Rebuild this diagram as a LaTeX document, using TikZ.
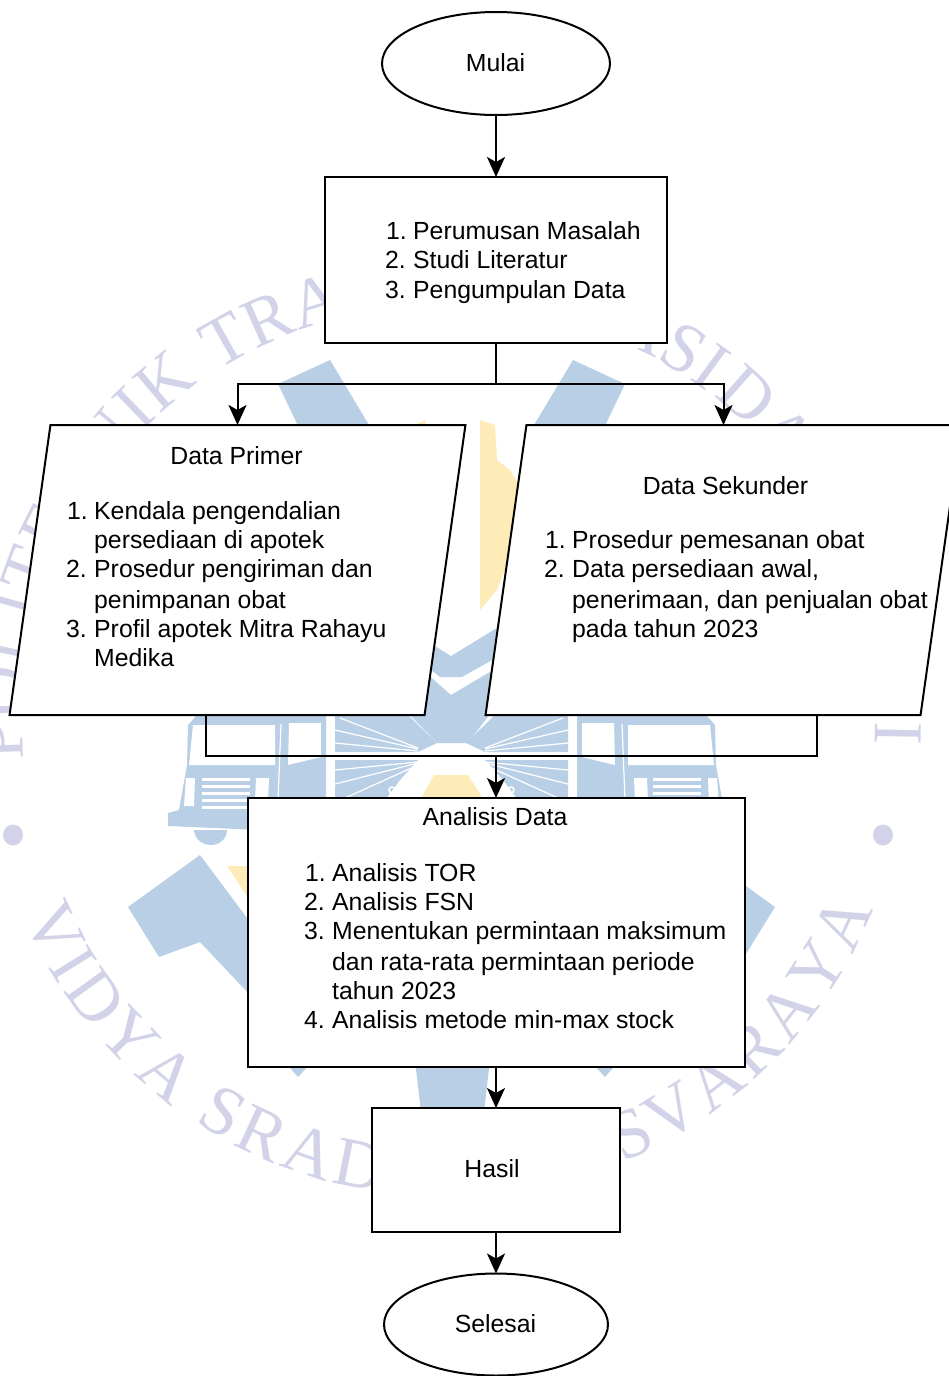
\documentclass[tikz,border=0pt]{standalone}
\usepackage{fontspec}
\setmainfont{Liberation Sans}
\newfontfamily\wmfont{Liberation Serif}
\usetikzlibrary{arrows.meta,shapes.geometric,decorations.text}
\definecolor{wmblue}{HTML}{B8CFE6}
\definecolor{wmyellow}{HTML}{FDEBB8}
\definecolor{wmtext}{HTML}{D2D3E8}
\tikzset{
  box/.style={draw=black,fill=white,line width=2pt,inner sep=0pt,outer sep=0pt},
  term/.style={box,ellipse},
  slanted/.style={box,xslant=0.141,transform shape},
  conn/.style={draw=black,line width=2pt},
  arrowconn/.style={conn,-{Stealth[length=20pt,width=18pt,inset=5pt]}},
  txt/.style={font=\fontsize{24.8pt}{29pt}\selectfont,text=black,inner sep=0pt,anchor=base},
  ltxt/.style={txt,anchor=base west},
  wb/.style={fill=wmblue,draw=none},
  wy/.style={fill=wmyellow,draw=none},
  ww/.style={fill=white,draw=none},
  ray/.style={draw=white,line width=1.2pt},
  wmarc/.style={decorate,decoration={text along path,text align=fit to path,raise=0pt}}
}
\newcommand{\wmhalf}{%
  % upper wedge
  \fill[wb] (330,360) -- (278,384) -- (300,430) -- (372,430) -- cycle;
  % truck body
  \fill[wb] (196,716) -- (326,716) -- (326,800) -- (260,830) -- (168,826) -- (168,813) -- (179,810) -- (187,765) -- (188,725) -- cycle;
  \fill[wb] (194,830) -- (227,830) .. controls (226,850) and (196,850) .. (194,830) -- cycle;
  \fill[ww] (193,725) -- (275,725) -- (275,765) -- (189,765) -- cycle;
  \fill[ww] (289,723) -- (321,723) -- (321,757) -- (288,765) -- cycle;
  \draw[white,line width=1.2pt] (281,724) -- (278,800);
  \fill[ww] (186,778) -- (195,778) -- (194,806) -- (184,806) -- cycle;
  \fill[ww] (202,778) -- (250,778) -- (250,781) -- (202,781) -- cycle;
  \fill[ww] (202,785) -- (250,785) -- (250,788) -- (202,788) -- cycle;
  \fill[ww] (202,792) -- (250,792) -- (250,795) -- (202,795) -- cycle;
  \fill[ww] (202,799) -- (250,799) -- (250,802) -- (202,802) -- cycle;
  \fill[ww] (202,806) -- (250,806) -- (250,809) -- (202,809) -- cycle;
  \fill[ww] (256,778) -- (269,778) -- (268,802) -- (255,802) -- cycle;
  % fans
  \fill[wb] (335,716) -- (409,716) -- (437,743) -- (418,752) -- (335,752) -- cycle;
  \fill[wb] (335,760) -- (418,760) -- (400,780) -- (385,800) -- (335,800) -- cycle;
  \draw[ray] (418,748) -- (340,718);
  \draw[ray] (418,749) -- (335,730);
  \draw[ray] (418,751) -- (335,743);
  \draw[ray] (418,762) -- (335,770);
  \draw[ray] (418,763) -- (335,784);
  \draw[ray] (418,765) -- (345,798);
  \draw[white,line width=1.5pt] (392,790) circle[radius=3pt];
  % lower wedge
  \fill[wb] (200,855) -- (128,907) -- (159,957) -- (200,942) -- (250,995) -- (250,922) -- cycle;
  % small triangle under the analysis box
  \fill[wb] (285,1062) -- (312,1062) -- (298,1077) -- cycle;
}
\begin{document}
\begin{tikzpicture}[x=1pt,y=-1pt]
\useasboundingbox (0,0) rectangle (949,1376);
\clip (0,0) rectangle (949,1376);
% ---- watermark ----
\wmhalf
\begin{scope}[shift={(903,0)},xscale=-1]
\wmhalf
\end{scope}
\fill[wy] (480,420) -- (495,425) -- (497,460) -- (510,470) -- (522,490) -- (505,570) -- (497,590) -- (480,610) -- cycle;
\fill[wy] (405,430) -- (425,420) -- (428,430) -- cycle;
\fill[wb] (425,640) -- (451,656) -- (510,620) -- (510,650) -- (462,677) -- (440,677) -- (425,665) -- cycle;
\fill[wb] (425,672) -- (451,695) -- (510,660) -- (510,716) -- (409,716) -- cycle;
\fill[wb] (409,714) -- (490,714) -- (468,743) -- (437,743) -- cycle;
\fill[wy] (434,775) -- (468,775) -- (484,800) -- (420,800) -- cycle;
\fill[wy] (227,866) -- (250,866) -- (250,900) -- (245,893) -- cycle;
\fill[wb] (415,1060) -- (490,1060) -- (484,1112) -- (421,1112) -- cycle;
\fill[wmtext] (13,835) circle[x radius=10pt,y radius=10.5pt];
\fill[wmtext] (883,835) circle[x radius=10pt,y radius=10.5pt];
\path[wmarc,decoration={text={|\wmfont\fontsize{70pt}{70pt}\selectfont\color{wmtext}|POLITEKNIK}}]
  plot[domain=183:125,samples=40] ({447+(424+(183-\x)*0.14)*cos(\x)},{737-(424+(183-\x)*0.14)*sin(\x)});
\path[wmarc,decoration={text={|\wmfont\fontsize{70pt}{70pt}\selectfont\color{wmtext}|TRANSPORTASI}}]
  plot[domain=122:53,samples=40] ({447+432*cos(\x)},{737-432*sin(\x)});
\path[wmarc,decoration={text={|\wmfont\fontsize{70pt}{70pt}\selectfont\color{wmtext}|DARAT BAL}}]
  plot[domain=52:3,samples=40] ({447+(428+\x*0.08)*cos(\x)},{737-(428+\x*0.08)*sin(\x)});
\node[anchor=base,rotate=-91,inner sep=0pt,text=wmtext,font=\wmfont\fontsize{70pt}{70pt}\selectfont] (wmlast) at (875,733) {I};
\path[wmarc,decoration={text={|\wmfont\fontsize{70pt}{70pt}\selectfont\color{wmtext}|VIDYA SRADHA NUSVARAYA}}]
  plot[domain=203:338,samples=70] ({447+460*cos(\x)},{737-460*sin(\x)});
% ---- shapes ----
\node[term,minimum width=228pt,minimum height=103pt] (start) at (496,63.5) {};
\node[box,minimum width=342pt,minimum height=166pt] (steps) at (496,260) {};
\node[slanted,minimum width=415pt,minimum height=290pt] (prim) at (237.5,570) {};
\node[slanted,minimum width=435pt,minimum height=290pt] (sek) at (723.5,570) {};
\node[box,minimum width=497pt,minimum height=269pt] (ana) at (496.5,932.5) {};
\node[box,minimum width=248pt,minimum height=124pt] (has) at (496,1170) {};
\node[term,minimum width=224pt,minimum height=102pt] (end) at (496,1324.5) {};
% ---- texts ----
\node[txt] (tstart) at (495.5,71) {Mulai};
\node[ltxt] (a1) at (386,239) {1.};
\node[ltxt] (a1t) at (413,239) {Perumusan Masalah};
\node[ltxt] (a2) at (385,268) {2.};
\node[ltxt] (a2t) at (413,268) {Studi Literatur};
\node[ltxt] (a3) at (385,298) {3.};
\node[ltxt] (a3t) at (413,298) {Pengumpulan Data};
\node[txt] (ph) at (236.5,464) {Data Primer};
\node[ltxt] (p1) at (67,519) {1.};
\node[ltxt] (p1t) at (94,519) {Kendala pengendalian};
\node[ltxt] (p1u) at (94,548) {persediaan di apotek};
\node[ltxt] (p2) at (66,577) {2.};
\node[ltxt] (p2t) at (94,577) {Prosedur pengiriman dan};
\node[ltxt] (p2u) at (94,608) {penimpanan obat};
\node[ltxt] (p3) at (66,637) {3.};
\node[ltxt] (p3t) at (94,637) {Profil apotek Mitra Rahayu};
\node[ltxt] (p3u) at (94,666) {Medika};
\node[txt] (sh) at (725.5,494) {Data Sekunder};
\node[ltxt] (s1) at (545,548) {1.};
\node[ltxt] (s1t) at (572,548) {Prosedur pemesanan obat};
\node[ltxt] (s2) at (544,577) {2.};
\node[ltxt] (s2t) at (572,577) {Data persediaan awal,};
\node[ltxt] (s2u) at (572,608) {penerimaan, dan penjualan obat};
\node[ltxt] (s2v) at (572,637) {pada tahun 2023};
\node[txt] (ah) at (495,825) {Analisis Data};
\node[ltxt] (n1) at (305,881) {1.};
\node[ltxt] (n1t) at (332,881) {Analisis TOR};
\node[ltxt] (n2) at (304,910) {2.};
\node[ltxt] (n2t) at (332,910) {Analisis FSN};
\node[ltxt] (n3) at (304,939) {3.};
\node[ltxt] (n3t) at (332,939) {Menentukan permintaan maksimum};
\node[ltxt] (n3u) at (332,970) {dan rata-rata permintaan periode};
\node[ltxt] (n3v) at (332,999) {tahun 2023};
\node[ltxt] (n4) at (304,1028) {4.};
\node[ltxt] (n4t) at (332,1028) {Analisis metode min-max stock};
\node[txt] (thas) at (492,1177) {Hasil};
\node[txt] (tend) at (495.5,1332) {Selesai};
% ---- connectors ----
\coordinate (bus1) at (496,384);
\coordinate (bus2) at (496,756);
\coordinate (pout) at (206,715);
\coordinate (sout) at (817,715);
\draw[arrowconn] (start.south) -- (steps.north);
\draw[conn] (steps.south) -- (bus1);
\draw[arrowconn] (bus1) -| (prim.center |- prim.north);
\draw[arrowconn] (bus1) -| (sek.center |- sek.north);
\draw[conn] (pout) |- (bus2) -| (sout);
\draw[arrowconn] (bus2) -- (bus2 |- ana.north);
\draw[arrowconn] (ana.south -| has.north) -- (has.north);
\draw[arrowconn] (has.south) -- (end.north);
\end{tikzpicture}
\end{document}
